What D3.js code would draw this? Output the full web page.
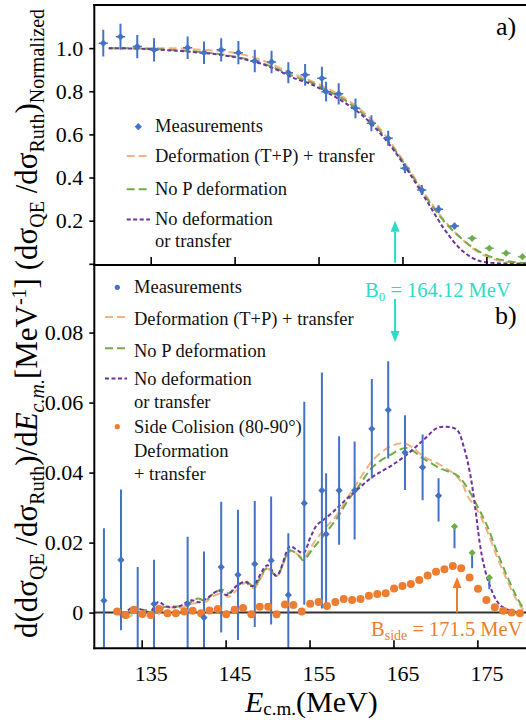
<!DOCTYPE html>
<html><head><meta charset="utf-8">
<script src="https://cdn.jsdelivr.net/npm/d3@7"></script>
<style>body{margin:0;background:#fff}svg{display:block}text{font-family:"Liberation Serif","Times New Roman",serif}</style>
</head><body><svg id="c" width="526" height="720" font-family="Liberation Serif, serif"></svg>
<script>
// ---------- DATA ----------
const xTicks = [135, 145, 155, 165, 175];
const yTicksA = [0, 0.2, 0.4, 0.6, 0.8, 1.0];
const yTicksB = [0, 0.02, 0.04, 0.06, 0.08];

// Panel a: normalized measurements
const measA_E = [129.35,131.4,133.4,135.4,139.4,141.35,143.4,145.45,147.4,149.4,151.4,153.4,155.4,155.9,157.4,159.4,161.3,163.3,165.3,167.3,169.3,171.2,173.3,175.35,177.35,179.3];
const measA_V = [1.023,1.053,1.007,0.992,1.002,0.979,0.992,0.979,0.94,0.936,0.886,0.876,0.86,0.798,0.788,0.721,0.652,0.582,0.443,0.342,0.253,0.175,0.118,0.072,0.049,0.033];
const measA_Err = [0.062,0.06,0.054,0.054,0.052,0.052,0.054,0.054,0.052,0.052,0.049,0.05,0.054,0.046,0.049,0.046,0.037,0.035,0.023,0.023,0.019,0.015,0.005,0.005,0.005,0.005];
const measA_Green = [0,0,0,0,0,0,0,0,0,0,0,0,0,0,0,0,0,0,0,0,0,0,1,1,1,1];
const measA_XErr = 0.55;

// Panel a: calculations
const curveA_E = [130,132,134,136,138,140,142,144,146,148,150,152,154,156,158,160,162,164,166,168,170,172,174,176,178,180];
const defA = [1.0,1.0,1.0,1.0,0.999,0.995,0.99,0.983,0.97,0.948,0.915,0.88,0.85,0.815,0.772,0.715,0.64,0.54,0.425,0.305,0.2,0.118,0.055,0.02,0.006,0.002];
const noPA = [1.0,0.999,0.998,0.995,0.99,0.985,0.978,0.968,0.953,0.933,0.905,0.87,0.843,0.805,0.762,0.705,0.63,0.533,0.418,0.298,0.195,0.118,0.06,0.026,0.009,0.003];
const noDefA = [1.0,0.999,0.997,0.993,0.988,0.982,0.975,0.965,0.95,0.93,0.9,0.862,0.835,0.795,0.75,0.695,0.62,0.525,0.41,0.285,0.16,0.065,0.015,0.003,0.0005,0.0];

// Panel b: derivative measurements
const measB_E = [129.43,131.46,133.45,135.4,139.4,141.35,143.4,145.4,147.4,149.35,151.4,153.3,155.4,155.9,157.45,159.3,161.35,163.3,165.3,167.4,169.3,171.2,173.3,175.35];
const measB_V = [0.00343,0.01506,-0.012,0.00249,0.00249,-0.00143,0.013,0.0108,0.0139,0.0149,0.00506,0.03126,0.0349,0.0224,0.0349,0.0349,0.0525,0.0579,0.0457,0.0415,0.0334,0.0246,0.0171,0.0100];
const measB_ErrHi = [0.0207,0.0201,0.025,0.0126,0.0192,0.0189,0.0187,0.0186,0.018,0.0183,0.0176,0.029,0.0337,0.0174,0.0155,0.014,0.0142,0.0139,0.0107,0.0094,0.005,0,0,0];
const measB_ErrLo = [0.0207,0.0201,0.025,0.0126,0.0192,0.0189,0.0187,0.0186,0.018,0.0183,0.0176,0.029,0.0337,0.021,0.0155,0.014,0.0142,0.0139,0.0107,0.0094,0.0074,0.0062,0.0044,0.0033];
const measB_Green = [0,0,0,0,0,0,0,0,0,0,0,0,0,0,0,0,0,0,0,0,0,1,1,1];

// Panel b: calculations
const noDefB_E = [131.0,131.8,132.7,133.7,134.9,135.9,136.9,138.3,139.8,140.9,141.9,143.1,144.1,145.3,146.3,147.1,148.9,150.0,151.6,152.4,153.2,154.0,154.8,155.6,156.8,158.0,159.6,161.5,163.5,165.5,167.5,169.1,170.3,171.5,172.3,173.05,173.65,174.2,174.65,175.45,176.6,177.8,179.0];
const noDefB_V = [0.0010,-0.0002,0.0013,0.0010,0.0002,0.0030,0.0017,0.0017,0.0035,0.0030,0.0044,0.0063,0.0050,0.0078,0.0088,0.0075,0.0135,0.0105,0.0189,0.0179,0.0170,0.0213,0.0250,0.0265,0.0289,0.0317,0.0351,0.0389,0.0417,0.0451,0.0493,0.0527,0.0531,0.0522,0.0474,0.0398,0.0303,0.0200,0.0141,0.0074,0.0022,0.0006,0.0];
const defB_E = [131.0,131.7,132.5,133.3,134.0,135.0,135.8,136.5,137.5,138.5,139.8,140.6,141.5,142.5,143.5,144.3,145.3,146.3,147.3,148.9,150.0,151.6,152.6,153.2,154.4,155.6,157.2,158.5,159.6,161.5,163.5,165.1,166.3,167.5,169.5,171.5,172.3,172.7,173.9,175.05,176.25,177.45,178.6,179.4];
const defB_V = [0.0005,-0.0016,-0.0012,0.0002,-0.0008,-0.0009,-0.0008,0.0010,0.0015,0.0013,0.0025,0.0028,0.0030,0.0048,0.0055,0.0045,0.0065,0.0085,0.0070,0.0125,0.0105,0.0175,0.0165,0.0155,0.0198,0.0236,0.0279,0.0330,0.0370,0.0436,0.0474,0.0484,0.0470,0.0446,0.0422,0.0389,0.0360,0.0335,0.0293,0.0236,0.0160,0.0093,0.0036,0.0008];
const noPB_E = [131.0,131.7,132.5,133.3,134.0,135.0,135.8,136.5,137.5,138.5,139.8,140.6,141.5,142.5,143.5,144.3,145.3,146.3,147.3,148.9,150.0,151.6,152.6,153.2,154.4,155.6,157.2,158.5,159.6,161.5,163.5,165.5,167.5,169.5,171.5,172.5,173.9,175.05,176.25,177.45,178.6,179.4];
const noPB_V = [0.0008,0.0000,-0.0003,0.0010,0.0008,0.0005,0.0002,0.0015,0.0018,0.0018,0.0030,0.0040,0.0035,0.0055,0.0065,0.0055,0.0075,0.0090,0.0075,0.0128,0.0105,0.0178,0.0163,0.0150,0.0185,0.0220,0.0270,0.0320,0.0355,0.0417,0.0450,0.0470,0.0440,0.0412,0.0392,0.0365,0.0305,0.0250,0.0175,0.0105,0.0045,0.0012];

// Panel b: side collision (80-90°)
const side_E = [131,132,133,134,135,136,137,138,139,140,141,142,143,144,145,146,147,148,149,150,151,152,153,154,155,156,157,158,159,160,161,162,163,164,165,166,167,168,169,170,171,172,173,174,175,176,177,178,179];
const side_V = [0.0003,-0.0007,0.0008,-0.0004,-0.0007,0.001,-0.0002,-0.0002,0.0003,0.0005,-0.0002,0.0006,0.001,-0.0005,0.0008,0.0013,-0.0005,0.0017,0.0017,-0.0005,0.0023,0.0022,0.0003,0.0025,0.003,0.0019,0.003,0.0039,0.0036,0.0039,0.0048,0.0053,0.0055,0.0069,0.0076,0.0082,0.0093,0.0106,0.0117,0.0124,0.0133,0.0127,0.01,0.0068,0.0036,0.0015,0.0005,0.0,-0.0002];

const B0 = 164.12, Bside = 171.5;

// ---------- STYLE ----------
const C = {blue:'#4472c4', green:'#70ad47', orange:'#ed7d31', peach:'#f4b183', purple:'#7030a0', cyan:'#2adcc8'};
const dashDef = '8,4', dashNoP = '8,4', dashNoDef = '4,2.5';

const svg = d3.select('#c');
const x = d3.scaleLinear().domain([128.28, 179.72]).range([94.3, 526]);
const ya = d3.scaleLinear().domain([-0.0056, 1.2]).range([265, 5]);
const yb = d3.scaleLinear().domain([-0.0102, 0.0993]).range([648.3, 265]);

const defs = svg.append('defs');
defs.append('clipPath').attr('id','clipA').append('rect').attr('x',94.3).attr('y',5).attr('width',526-94.3).attr('height',260);
defs.append('clipPath').attr('id','clipB').append('rect').attr('x',94.3).attr('y',265).attr('width',526-94.3).attr('height',648.3-265);

// ---------- PANEL A ----------
const ga = svg.append('g').attr('clip-path','url(#clipA)');
function curve(g, E, V, y, color, dash){
  const line = d3.line().x((d,i)=>x(E[i])).y(d=>y(d)).curve(d3.curveCatmullRom.alpha(0.5));
  g.append('path').datum(V).attr('d', line).attr('fill','none').attr('stroke',color)
   .attr('stroke-width',2).attr('stroke-dasharray',dash);
}
curve(ga, curveA_E, defA, ya, C.peach, dashDef);
curve(ga, curveA_E, noPA, ya, C.green, dashNoP);
curve(ga, curveA_E, noDefA, ya, C.purple, dashNoDef);

const diamond = d3.symbol().type(d3.symbolSquare).size(26);
measA_E.forEach((e,i)=>{
  const cx = x(e), cy = ya(measA_V[i]);
  ga.append('line').attr('x1',cx).attr('x2',cx).attr('y1',ya(measA_V[i]+measA_Err[i])).attr('y2',ya(measA_V[i]-measA_Err[i]))
    .attr('stroke',C.blue).attr('stroke-width',2);
  ga.append('line').attr('x1',x(e-measA_XErr)).attr('x2',x(e+measA_XErr)).attr('y1',cy).attr('y2',cy)
    .attr('stroke', measA_Green[i] ? '#7fa6e0' : C.blue).attr('stroke-width',1.5);
  ga.append('path').attr('d',diamond).attr('transform',`translate(${cx},${cy}) rotate(45)`)
    .attr('fill', measA_Green[i] ? C.green : C.blue);
});

// ---------- PANEL B ----------
const gb = svg.append('g').attr('clip-path','url(#clipB)');
gb.append('line').attr('x1',94.3).attr('x2',526).attr('y1',yb(0)).attr('y2',yb(0)).attr('stroke','#333').attr('stroke-width',2);
curve(gb, defB_E, defB_V, yb, C.peach, dashDef);
curve(gb, noPB_E, noPB_V, yb, C.green, dashNoP);
curve(gb, noDefB_E, noDefB_V, yb, C.purple, dashNoDef);

measB_E.forEach((e,i)=>{
  const cx = x(e);
  gb.append('line').attr('x1',cx).attr('x2',cx).attr('y1',yb(measB_V[i]+measB_ErrHi[i])).attr('y2',yb(measB_V[i]-measB_ErrLo[i]))
    .attr('stroke',C.blue).attr('stroke-width',2);
});
side_E.forEach((e,i)=>{
  gb.append('circle').attr('cx',x(e)).attr('cy',yb(side_V[i])).attr('r',4).attr('fill',C.orange);
});
measB_E.forEach((e,i)=>{
  gb.append('path').attr('d',diamond).attr('transform',`translate(${x(e)},${yb(measB_V[i])}) rotate(45)`)
    .attr('fill', measB_Green[i] ? C.green : C.blue);
});

// ---------- AXES / FRAME ----------
const frame = svg.append('g').attr('stroke','#000').attr('stroke-width',2);
frame.append('line').attr('x1',94.3).attr('x2',94.3).attr('y1',4).attr('y2',649.3);
frame.append('line').attr('x1',93.3).attr('x2',526).attr('y1',5).attr('y2',5);
frame.append('line').attr('x1',93.3).attr('x2',526).attr('y1',265).attr('y2',265);
frame.append('line').attr('x1',93.3).attr('x2',526).attr('y1',648.3).attr('y2',648.3);

function styleAxis(g, fs){
  g.attr('font-family', null);
  g.select('.domain').remove();
  g.selectAll('.tick line').attr('stroke','#000').attr('stroke-width',1.6);
  g.selectAll('.tick text').attr('fill','#000').style('font-size',fs+'px').style('font-family','"Liberation Serif","Times New Roman",serif');
}
const axA = svg.append('g').attr('transform','translate(94.3,0)')
  .call(d3.axisLeft(ya).tickValues(yTicksA).tickSize(5).tickPadding(6).tickFormat(d=> d===0 ? '' : d3.format('.1f')(d)));
styleAxis(axA, 22);
const axB = svg.append('g').attr('transform','translate(94.3,0)')
  .call(d3.axisLeft(yb).tickValues(yTicksB).tickSize(5).tickPadding(6).tickFormat(d=> d===0 ? '0' : d3.format('.2f')(d)));
styleAxis(axB, 22);
const axMid = svg.append('g').attr('transform','translate(0,265)')
  .call(d3.axisTop(x).tickValues(xTicks).tickSize(8).tickFormat(''));
styleAxis(axMid, 22);
const axBotTicks = svg.append('g').attr('transform','translate(-9,648.3)')
  .call(d3.axisTop(x).tickValues(xTicks).tickSize(8).tickFormat(''));
styleAxis(axBotTicks, 22);
const axBot = svg.append('g').attr('transform','translate(0,648.3)')
  .call(d3.axisBottom(x).tickValues(xTicks).tickSize(0).tickPadding(17).tickFormat(d3.format('d')));
styleAxis(axBot, 22);

// ---------- ANNOTATIONS ----------
function arrow(x0, y0, y1, color){
  const dir = y1 < y0 ? -1 : 1, hl = 11, hw = 4.5;
  svg.append('line').attr('x1',x0).attr('x2',x0).attr('y1',y0).attr('y2',y1 - dir*hl).attr('stroke',color).attr('stroke-width',2);
  svg.append('path').attr('d',`M${x0},${y1}L${x0-hw},${y1-dir*hl}L${x0+hw},${y1-dir*hl}Z`).attr('fill',color);
}
arrow(x(B0), ya(0.005), ya(0.2), C.cyan);
arrow(x(B0), yb(0.0896), yb(0.0773), C.cyan);
arrow(x(Bside), yb(0), yb(0.0102), C.orange);

const tB0 = svg.append('text').attr('x', x(B0)-30).attr('y',296.7).attr('fill',C.cyan).style('font-size','20.5px');
tB0.append('tspan').text('B');
tB0.append('tspan').attr('dy',4).style('font-size','13px').text('0');
tB0.append('tspan').attr('dy',-4).text(' = 164.12 MeV');

const tBs = svg.append('text').attr('x', x(Bside)-86).attr('y',636).attr('fill',C.orange).style('font-size','20.5px');
tBs.append('tspan').text('B');
tBs.append('tspan').attr('dy',4).style('font-size','14px').text('side');
tBs.append('tspan').attr('dy',-4).text(' = 171.5 MeV');

svg.append('text').attr('x',496).attr('y',35).style('font-size','26px').text('a)');
svg.append('text').attr('x',495).attr('y',324).style('font-size','26px').text('b)');

// ---------- LEGENDS ----------
const LF = '18.5px';
function legText(xp, yp, s){ svg.append('text').attr('x',xp).attr('y',yp).style('font-size',LF).attr('fill','#111').text(s); }
function legLine(x1, x2, yp, color, dash){
  svg.append('line').attr('x1',x1).attr('x2',x2).attr('y1',yp).attr('y2',yp).attr('stroke',color).attr('stroke-width',2).attr('stroke-dasharray',dash);
}
// panel a
svg.append('path').attr('d',diamond).attr('transform','translate(138.3,126.7) rotate(45)').attr('fill',C.blue);
legText(155,132,'Measurements');
legLine(126.7,150,156,C.peach,dashDef); legText(155,161.7,'Deformation (T+P) + transfer');
legLine(126.7,150,189.3,C.green,dashNoP); legText(155,195,'No P deformation');
legLine(126.7,150,219.5,C.purple,dashNoDef); legText(155,225,'No deformation'); legText(155,247,'or transfer');
// panel b
svg.append('circle').attr('cx',117.3).attr('cy',287.3).attr('r',2.6).attr('fill',C.blue);
legText(134,293.3,'Measurements');
legLine(105,127,317,C.peach,dashDef); legText(134,325,'Deformation (T+P) + transfer');
legLine(105,127,348.3,C.green,dashNoP); legText(134,356.7,'No P deformation');
legLine(105,127,378.5,C.purple,dashNoDef); legText(134,385,'No deformation'); legText(134,408.3,'or transfer');
svg.append('circle').attr('cx',117.3).attr('cy',426.7).attr('r',2.6).attr('fill',C.orange);
legText(134,433.3,'Side Colision (80-90°)'); legText(134,457.3,'Deformation'); legText(134,480,'+ transfer');

// ---------- AXIS TITLES ----------
const xl = svg.append('text').attr('x',245).attr('y',712).style('font-size','30px').attr('fill','#000');
xl.append('tspan').style('font-style','italic').text('E');
xl.append('tspan').attr('dy',3).style('font-size','19px').text('c.m.');
xl.append('tspan').attr('dy',-3).text('(MeV)');

const yl = svg.append('text').attr('transform','translate(37,638) rotate(-90)').style('font-size','31px').attr('fill','#000');
const SUB = 20, SH = 7;
const parts = [
  ['d(dσ',0],['QE',1],[' /dσ',0],['Ruth',1],[')/d',0],['E',2],['c.m.',3],['[MeV',0],['-1',4],['] (dσ',0],['QE',1],[' /dσ',0],['Ruth',1],[')',0],['Normalized',1]
];
let shift = 0;
parts.forEach(([s,t])=>{
  const target = (t===1||t===3) ? SH : (t===4 ? -11 : 0);
  const ts = yl.append('tspan').attr('dy', target - shift).text(s);
  shift = target;
  if (t===1||t===3||t===4) ts.style('font-size', SUB+'px');
  if (t===2||t===3) ts.style('font-style','italic');
});
</script></body></html>
